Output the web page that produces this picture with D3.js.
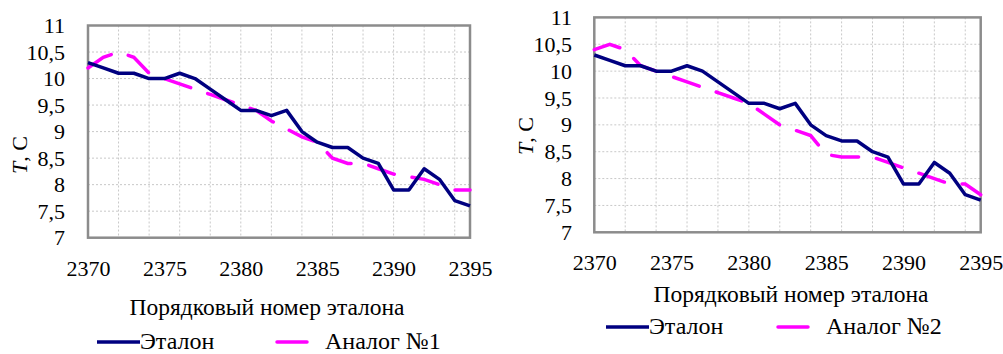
<!DOCTYPE html>
<html>
<head>
<meta charset="utf-8">
<script src="https://cdn.jsdelivr.net/npm/d3@7"></script>
<style>
    body { margin: 0; background: #fff; }
    svg text { font-family: "Liberation Serif", "Tinos", "Times New Roman", "DejaVu Serif", serif !important; fill: #000; }
</style>
</head>
<body>
<div id="chart"></div>
<script>
//
// Two line charts: etalon vs analog
//

// Data
let years = d3.range(2370, 2396);
let etalon = [10.3, 10.2, 10.1, 10.1, 10.0, 10.0, 10.1, 10.0, 9.8, 9.6, 9.4, 9.4, 9.3,
    9.4, 9.0, 8.8, 8.7, 8.7, 8.5, 8.4, 7.9, 7.9, 8.3, 8.1, 7.7, 7.6];
let analog1 = [10.2, 10.4, 10.5, 10.4, 10.1, 10.0, 9.9, 9.8, 9.7, 9.6, 9.5, 9.4, 9.2,
    9.05, 8.9, 8.8, 8.5, 8.4, 8.4, 8.3, 8.2, 8.15, 8.1, 8.0, 7.9, 7.9];
let analog2 = [10.4, 10.5, 10.4, 10.1, 10.0, 9.9, 9.8, 9.7, 9.6, 9.5, 9.4, 9.2, 9.0,
    8.9, 8.8, 8.45, 8.4, 8.4, 8.4, 8.3, 8.2, 8.1, 8.0, 7.9, 7.9, 7.7];
let xTicks = [2370, 2375, 2380, 2385, 2390, 2395];
let yTicks = [7, 7.5, 8, 8.5, 9, 9.5, 10, 10.5, 11];
let xTitle = 'Порядковый номер эталона';
let seriesNames = ['Эталон', 'Аналог №1', 'Аналог №2'];

let width = 1003;
let height = 354;
let serif = '"Liberation Serif", "Tinos", "Times New Roman", "DejaVu Serif", serif';

let svg = d3.select('#chart')
    .append('svg')
    .attr('width', width)
    .attr('height', height)
    .style('font-family', serif);

// comma as decimal sign
let ru = d3.formatLocale({ decimal: ',', thousands: '', grouping: [3], currency: ['', ''] });
let fmtY = ru.format('~g');

function drawChart(cfg, analog, analogName) {
    let x = d3.scaleLinear().domain([2370, 2395]).range([cfg.left, cfg.right]);
    let y = d3.scaleLinear().domain([7, 11]).range([cfg.bottom, cfg.top]);
    let g = svg.append('g');

    // gridlines
    g.append('g')
        .selectAll('line')
        .data(d3.range(2372, 2395, 2))
        .enter()
        .append('line')
        .attr('x1', d => x(d)).attr('x2', d => x(d))
        .attr('y1', cfg.top).attr('y2', cfg.bottom)
        .attr('stroke', '#c8c8c8')
        .attr('stroke-dasharray', '2,2');
    g.append('g')
        .selectAll('line')
        .data(yTicks.slice(1, -1))
        .enter()
        .append('line')
        .attr('x1', cfg.left).attr('x2', cfg.right)
        .attr('y1', d => y(d)).attr('y2', d => y(d))
        .attr('stroke', '#c8c8c8')
        .attr('stroke-dasharray', '2,2');

    // frame
    g.append('rect')
        .attr('x', cfg.left).attr('y', cfg.top)
        .attr('width', cfg.right - cfg.left)
        .attr('height', cfg.bottom - cfg.top)
        .attr('fill', 'none')
        .attr('stroke', '#8c8c8c')
        .attr('stroke-width', 2.5);

    // axes
    g.append('g')
        .attr('transform', 'translate(' + cfg.left + ',0)')
        .call(d3.axisLeft(y).tickValues(yTicks).tickSize(0).tickPadding(cfg.left - cfg.yLabelX).tickFormat(fmtY));
    g.append('g')
        .attr('transform', 'translate(0,' + cfg.bottom + ')')
        .call(d3.axisBottom(x).tickValues(xTicks).tickSize(0).tickPadding(cfg.xPad).tickFormat(d3.format('d')));
    g.selectAll('.domain').remove();
    g.selectAll('.tick').attr('font-family', null).attr('font-size', null);
    g.selectAll('.tick text')
        .style('font-family', serif)
        .style('font-size', '22px')
        .attr('fill', '#000');

    // lines
    let line = d3.line()
        .x((d, i) => x(years[i]))
        .y(d => y(d));

    g.append('path')
        .datum(analog)
        .attr('d', line)
        .attr('fill', 'none')
        .attr('stroke', '#ff00ff')
        .attr('stroke-width', 3.5)
        .attr('stroke-linecap', 'round')
        .attr('stroke-dasharray', '27,18');

    g.append('path')
        .datum(etalon)
        .attr('d', line)
        .attr('fill', 'none')
        .attr('stroke', '#000080')
        .attr('stroke-width', 3.5)
        .attr('stroke-linejoin', 'round');

    // axis titles
    g.append('text')
        .attr('x', cfg.titleX).attr('y', cfg.titleY)
        .attr('text-anchor', 'middle')
        .style('font-size', '23.5px')
        .text(xTitle);

    let yt = g.append('text')
        .attr('transform', 'translate(' + cfg.yTitleX + ',' + cfg.yTitleY + ') rotate(-90)')
        .attr('text-anchor', 'middle')
        .style('font-size', '22px');
    yt.append('tspan').style('font-style', 'italic').text('T');
    yt.append('tspan').text(', C');

    // legend
    g.append('line')
        .attr('x1', cfg.leg1).attr('x2', cfg.leg1 + 43)
        .attr('y1', cfg.legY).attr('y2', cfg.legY)
        .attr('stroke', '#000080').attr('stroke-width', 3.5);
    g.append('text')
        .attr('x', cfg.leg1 + 43).attr('y', cfg.legY + 7)
        .style('font-size', '24px')
        .text(seriesNames[0]);
    g.append('line')
        .attr('x1', cfg.leg2).attr('x2', cfg.leg2 + 30)
        .attr('y1', cfg.legY).attr('y2', cfg.legY)
        .attr('stroke', '#ff00ff').attr('stroke-width', 3.5)
        .attr('stroke-linecap', 'round');
    g.append('text')
        .attr('x', cfg.leg2 + 48).attr('y', cfg.legY + 7)
        .style('font-size', '24px')
        .text(analogName);
}

drawChart({
    left: 88, right: 470, top: 25.5, bottom: 237.7,
    yLabelX: 65, xPad: 23,
    titleX: 267, titleY: 315,
    yTitleX: 27, yTitleY: 155,
    leg1: 97, leg2: 277, legY: 342
}, analog1, seriesNames[1]);

drawChart({
    left: 594.3, right: 980.7, top: 17.4, bottom: 232.3,
    yLabelX: 572, xPad: 22,
    titleX: 791, titleY: 302,
    yTitleX: 533, yTitleY: 136,
    leg1: 606, leg2: 778, legY: 327
}, analog2, seriesNames[2]);
</script>
</body>
</html>
